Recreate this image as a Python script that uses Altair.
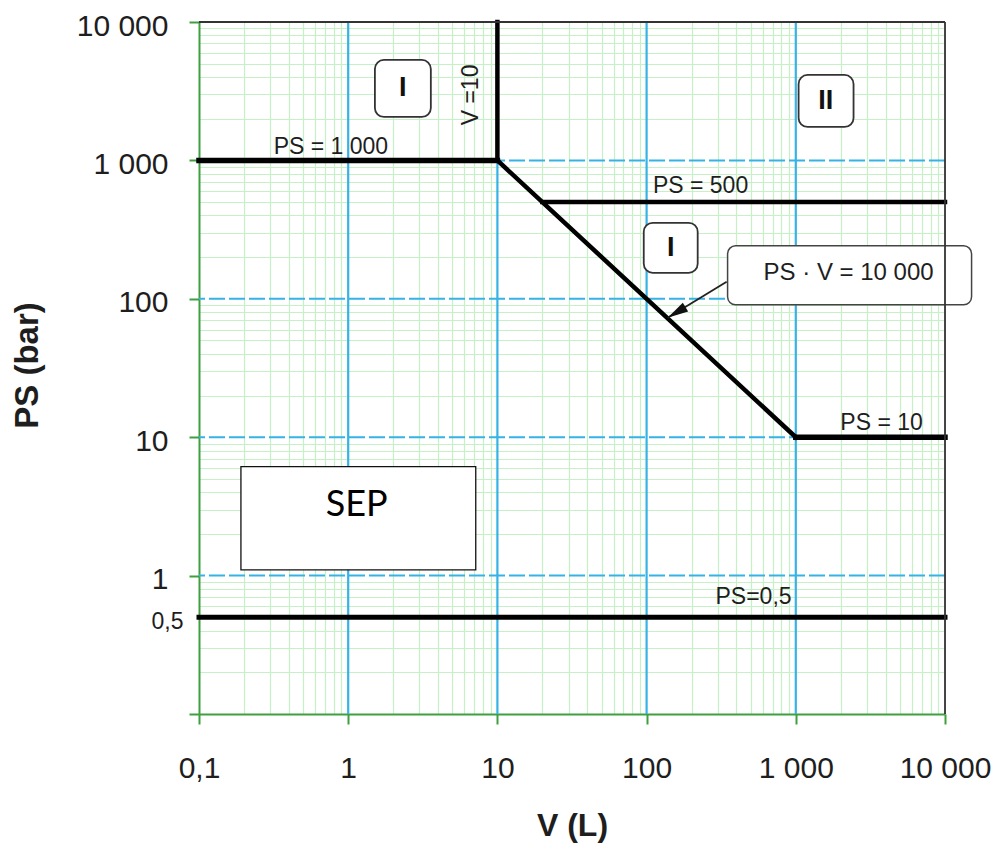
import json
import altair as alt
import pandas as pd

FONT = "Liberation Sans"
GREEN = "#3f9f3f"
MINOR_GREEN = "#c6f0c6"
BLUE = "#36b3e6"
INK = "#1e1e1e"

# ---- axes -------------------------------------------------------------
DECADES = [0.1, 1, 10, 100, 1000, 10000]
MINOR_STEPS = [2, 3, 4, 5, 6, 7, 8, 9]
X_TICK_VALUES = [0.1, 1, 10, 100, 1000, 10000]
X_TICK_LABELS = ["0,1", "1", "10", "100", "1 000", "10 000"]
Y_TICK_VALUES = [0.5, 1, 10, 100, 1000, 10000]
Y_TICK_LABELS = ["0,5", "1", "10", "100", "1 000", "10 000"]

# ---- major grid lines (drawn above the minor grid) ----------------------
MAJOR_V = [1, 10, 100, 1000]
MAJOR_P = [1, 10, 100, 1000]

# ---- boundary lines (V from, V to, PS from, PS to, stroke width) -------
SEG_V1 = [0.1, 10, 10, 20, 1000, 0.1]
SEG_V2 = [10, 10, 1000, 10000, 10000, 10000]
SEG_P1 = [1000, 1000, 1000, 500, 10, 0.5]
SEG_P2 = [1000, 10000, 10, 500, 10, 0.5]
SEG_W = [5.5, 4.5, 4.5, 4.5, 5.5, 5]

# ---- line labels -------------------------------------------------------
LBL_TEXT = ["PS = 1 000", "PS = 500", "PS = 10", "PS=0,5"]
LBL_V = [0.766, 230, 3756, 521]
LBL_P = [1251, 655, 12.7, 0.705]

ROT_TEXT = ["V =10"]
ROT_V = [6.63]
ROT_P = [2972]

# ---- category boxes ----------------------------------------------------
ROMAN = ["I", "II", "I"]
ROMAN_V = [2.32, 1585, 145]
ROMAN_P = [3337, 2692, 233]
BOX_V1 = [1.51, 1044, 95.7]
BOX_V2 = [3.58, 2438, 220]
BOX_P1 = [5321, 4143, 354]
BOX_P2 = [2061, 1745, 154]

# ---- callout -----------------------------------------------------------
CALL_TEXT = ["PS · V = 10 000"]
CALL_V = [2259]
CALL_P = [154]
CALL_BOX_V1 = [349]
CALL_BOX_V2 = [15070]
CALL_BOX_P1 = [241.5]
CALL_BOX_P2 = [90.5]
ARROW_V1 = [344]
ARROW_P1 = [132.7]
ARROW_V2 = [138.4]
ARROW_P2 = [72.9]

# ---- SEP box -----------------------------------------------------------
SEP_TEXT = ["SEP"]
SEP_V = [1.14]
SEP_P = [3.26]
SEP_BOX_V1 = [0.191]
SEP_BOX_V2 = [7.16]
SEP_BOX_P1 = [6.12]
SEP_BOX_P2 = [1.10]

# ---- frame (top / right borders) ---------------------------------------
FRAME_V1 = [0.1, 10000]
FRAME_V2 = [10000, 10000]
FRAME_P1 = [10000, 0.1]
FRAME_P2 = [10000, 10000]

grid_vals = sorted(set(DECADES + [round(m * d, 6) for d in DECADES[:-1] for m in MINOR_STEPS]))
DEC_TEST = "indexof(" + json.dumps(DECADES) + ", datum.value) >= 0"


def label_expr(vals, labels):
    parts = " : ".join(f"datum.value == {v} ? '{l}'" for v, l in zip(vals, labels))
    return parts + " : ''"


SX = alt.Scale(type="log", domain=[0.1, 10000], nice=False)
SY = alt.Scale(type="log", domain=[0.1, 10000], nice=False)

AX_X = alt.Axis(
    values=grid_vals,
    labelExpr=label_expr(X_TICK_VALUES, X_TICK_LABELS),
    labelFont=FONT, labelFontSize=30, labelColor=INK, labelPadding=29,
    labelOverlap=False, labelFlush=False,
    tickSize=10, tickWidth=2, tickColor=GREEN,
    tickOpacity={"condition": {"test": DEC_TEST, "value": 1}, "value": 0},
    domainColor=GREEN, domainWidth=2,
    grid=True,
    gridColor=MINOR_GREEN,
    gridOpacity={"condition": {"test": DEC_TEST, "value": 0}, "value": 1},
    gridWidth=1.2,
    title="V (L)", titleFont=FONT, titleFontSize=32, titleFontWeight="bold",
    titleColor=INK, titleX=373, titleY=111, titleBaseline="middle", titleAlign="center",
)

AX_Y = alt.Axis(
    values=grid_vals,
    labelExpr=label_expr(Y_TICK_VALUES, Y_TICK_LABELS),
    labelFont=FONT,
    labelFontSize={"condition": {"test": "datum.value == 0.5", "value": 23}, "value": 30},
    labelPadding={"condition": {"test": "datum.value == 0.5", "value": 6}, "value": 21},
    labelColor=INK, labelOffset=4,
    labelOverlap=False, labelFlush=False,
    tickSize=10, tickWidth=2, tickColor=GREEN,
    tickOpacity={"condition": {"test": DEC_TEST, "value": 1}, "value": 0},
    domainColor=GREEN, domainWidth=2,
    grid=True,
    gridColor=MINOR_GREEN,
    gridOpacity={"condition": {"test": DEC_TEST, "value": 0}, "value": 1},
    gridWidth=1.2,
    title="PS (bar)", titleFont=FONT, titleFontSize=33, titleFontWeight="bold",
    titleColor=INK, titleX=-172, titleY=343, titleAngle=270,
    titleBaseline="middle", titleAlign="center",
)


def X(f):
    return alt.X(f"{f}:Q", scale=SX, axis=AX_X, title="V (L)")


def Y(f):
    return alt.Y(f"{f}:Q", scale=SY, axis=AX_Y, title="PS (bar)")


major_h = alt.Chart(pd.DataFrame({"y": MAJOR_P})).mark_rule(
    color=BLUE, strokeWidth=2, strokeDash=[16, 4]
).encode(y=Y("y"))

major_v = alt.Chart(pd.DataFrame({"x": MAJOR_V})).mark_rule(
    color=BLUE, strokeWidth=2.2
).encode(x=X("x"))

seg_df = pd.DataFrame({"x": SEG_V1, "x2": SEG_V2, "y": SEG_P1, "y2": SEG_P2, "w": SEG_W})
segments = alt.Chart(seg_df).mark_rule(color="#000000", strokeCap="square").encode(
    x=X("x"), x2="x2:Q", y=Y("y"), y2="y2:Q",
    strokeWidth=alt.StrokeWidth("w:Q", scale=None),
)

sep_box = alt.Chart(pd.DataFrame({"x": SEP_BOX_V1, "x2": SEP_BOX_V2, "y": SEP_BOX_P1, "y2": SEP_BOX_P2})).mark_rect(
    fill="white", stroke="#111111", strokeWidth=1.3
).encode(x=X("x"), x2="x2:Q", y=Y("y"), y2="y2:Q")

sep_text = alt.Chart(pd.DataFrame({"x": SEP_V, "y": SEP_P, "t": SEP_TEXT})).mark_text(
    font="Lato", fontSize=36, color="#000000", baseline="middle", align="center"
).encode(x=X("x"), y=Y("y"), text="t:N")

roman_box = alt.Chart(pd.DataFrame({"x": BOX_V1, "x2": BOX_V2, "y": BOX_P1, "y2": BOX_P2})).mark_rect(
    fill="white", stroke="#333333", strokeWidth=1.8, cornerRadius=9
).encode(x=X("x"), x2="x2:Q", y=Y("y"), y2="y2:Q")

roman_text = alt.Chart(pd.DataFrame({"x": ROMAN_V, "y": ROMAN_P, "t": ROMAN})).mark_text(
    font=FONT, fontSize=27, fontWeight="bold", color="#111111", baseline="middle", align="center"
).encode(x=X("x"), y=Y("y"), text="t:N")

call_box = alt.Chart(pd.DataFrame({"x": CALL_BOX_V1, "x2": CALL_BOX_V2, "y": CALL_BOX_P1, "y2": CALL_BOX_P2})).mark_rect(
    fill="white", stroke="#444444", strokeWidth=1.5, cornerRadius=8, clip=False
).encode(x=X("x"), x2="x2:Q", y=Y("y"), y2="y2:Q")

call_text = alt.Chart(pd.DataFrame({"x": CALL_V, "y": CALL_P, "t": CALL_TEXT})).mark_text(
    font=FONT, fontSize=24, color=INK, baseline="middle", align="center"
).encode(x=X("x"), y=Y("y"), text="t:N")

arrow_line = alt.Chart(pd.DataFrame({"x": ARROW_V1, "x2": ARROW_V2, "y": ARROW_P1, "y2": ARROW_P2})).mark_rule(
    color="#222222", strokeWidth=1.8
).encode(x=X("x"), x2="x2:Q", y=Y("y"), y2="y2:Q")

arrow_head = alt.Chart(pd.DataFrame({"x": ARROW_V2, "y": ARROW_P2})).mark_point(
    shape="M0,0 L-0.6,2.4 L0.6,2.4 Z", filled=True, color="#111111", size=300, angle=239, opacity=1
).encode(x=X("x"), y=Y("y"))

line_labels = alt.Chart(pd.DataFrame({"x": LBL_V, "y": LBL_P, "t": LBL_TEXT})).mark_text(
    font=FONT, fontSize=23, color=INK, baseline="middle", align="center"
).encode(x=X("x"), y=Y("y"), text="t:N")

rot_label = alt.Chart(pd.DataFrame({"x": ROT_V, "y": ROT_P, "t": ROT_TEXT})).mark_text(
    font=FONT, fontSize=23, color=INK, baseline="middle", align="center", angle=270
).encode(x=X("x"), y=Y("y"), text="t:N")

frame = alt.Chart(pd.DataFrame({"x": FRAME_V1, "x2": FRAME_V2, "y": FRAME_P1, "y2": FRAME_P2})).mark_rule(
    color="#333333", strokeWidth=1.8
).encode(x=X("x"), x2="x2:Q", y=Y("y"), y2="y2:Q")

chart = alt.layer(
    major_h, major_v,
    sep_box, sep_text, segments, arrow_line, arrow_head,
    roman_box, roman_text, call_box, call_text, line_labels, rot_label, frame,
).properties(
    width=746, height=692,
    autosize=alt.AutoSizeParams(type="none"),
    padding={"left": 191, "top": 14, "right": 46, "bottom": 133},
).configure_view(stroke=None).configure(background="white")

chart.save("out.html", embed_options={"renderer": "svg", "actions": False})
